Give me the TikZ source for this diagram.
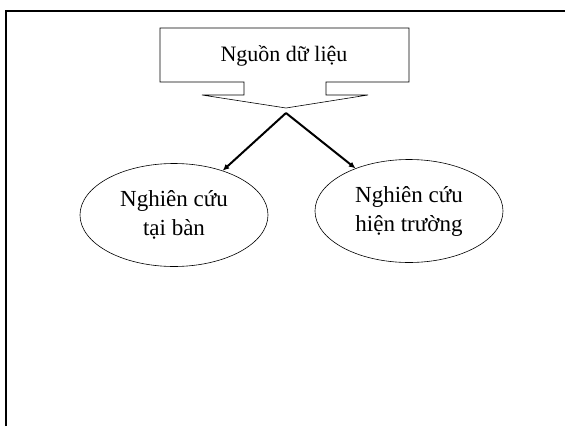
\documentclass[tikz,border=0pt]{standalone}
\usepackage{fontspec}
\setmainfont{Liberation Serif}
\usetikzlibrary{arrows.meta, shapes.geometric, positioning}

\begin{document}
\begin{tikzpicture}[x=1pt, y=-1pt,
    oval/.style={draw, ellipse, line width=0.6pt, minimum width=188pt, minimum height=103pt,
      inner sep=0pt, align=center, font=\fontsize{23}{29}\selectfont},
    link/.style={line width=2pt, -{Latex[length=6.5pt,width=6pt]}}]
  \useasboundingbox (0,0) rectangle (565,426);
  % frame
  \draw[line width=2.8pt] (6,426) -- (6,11) -- (565,11);
  % callout
  \draw[line width=0.6pt] (160,28) -- (409,28) -- (409,82) -- (326,82) -- (326,95) -- (368,95)
    -- (286,108) -- (202,95) -- (244,95) -- (244,82) -- (160,82) -- cycle;
  \node[font=\fontsize{22}{26}\selectfont] (src) at (284,56) {Nguồn dữ liệu};
  \coordinate (fork) at (286,113);
  \node[oval] (desk) at (174,215) {Nghiên cứu\\tại bàn};
  \node[oval] (field) at (409,211) {Nghiên cứu\\hiện trường};
  \draw[link] (fork) -- (desk);
  \draw[link] (fork) -- (field);
\end{tikzpicture}
\end{document}
